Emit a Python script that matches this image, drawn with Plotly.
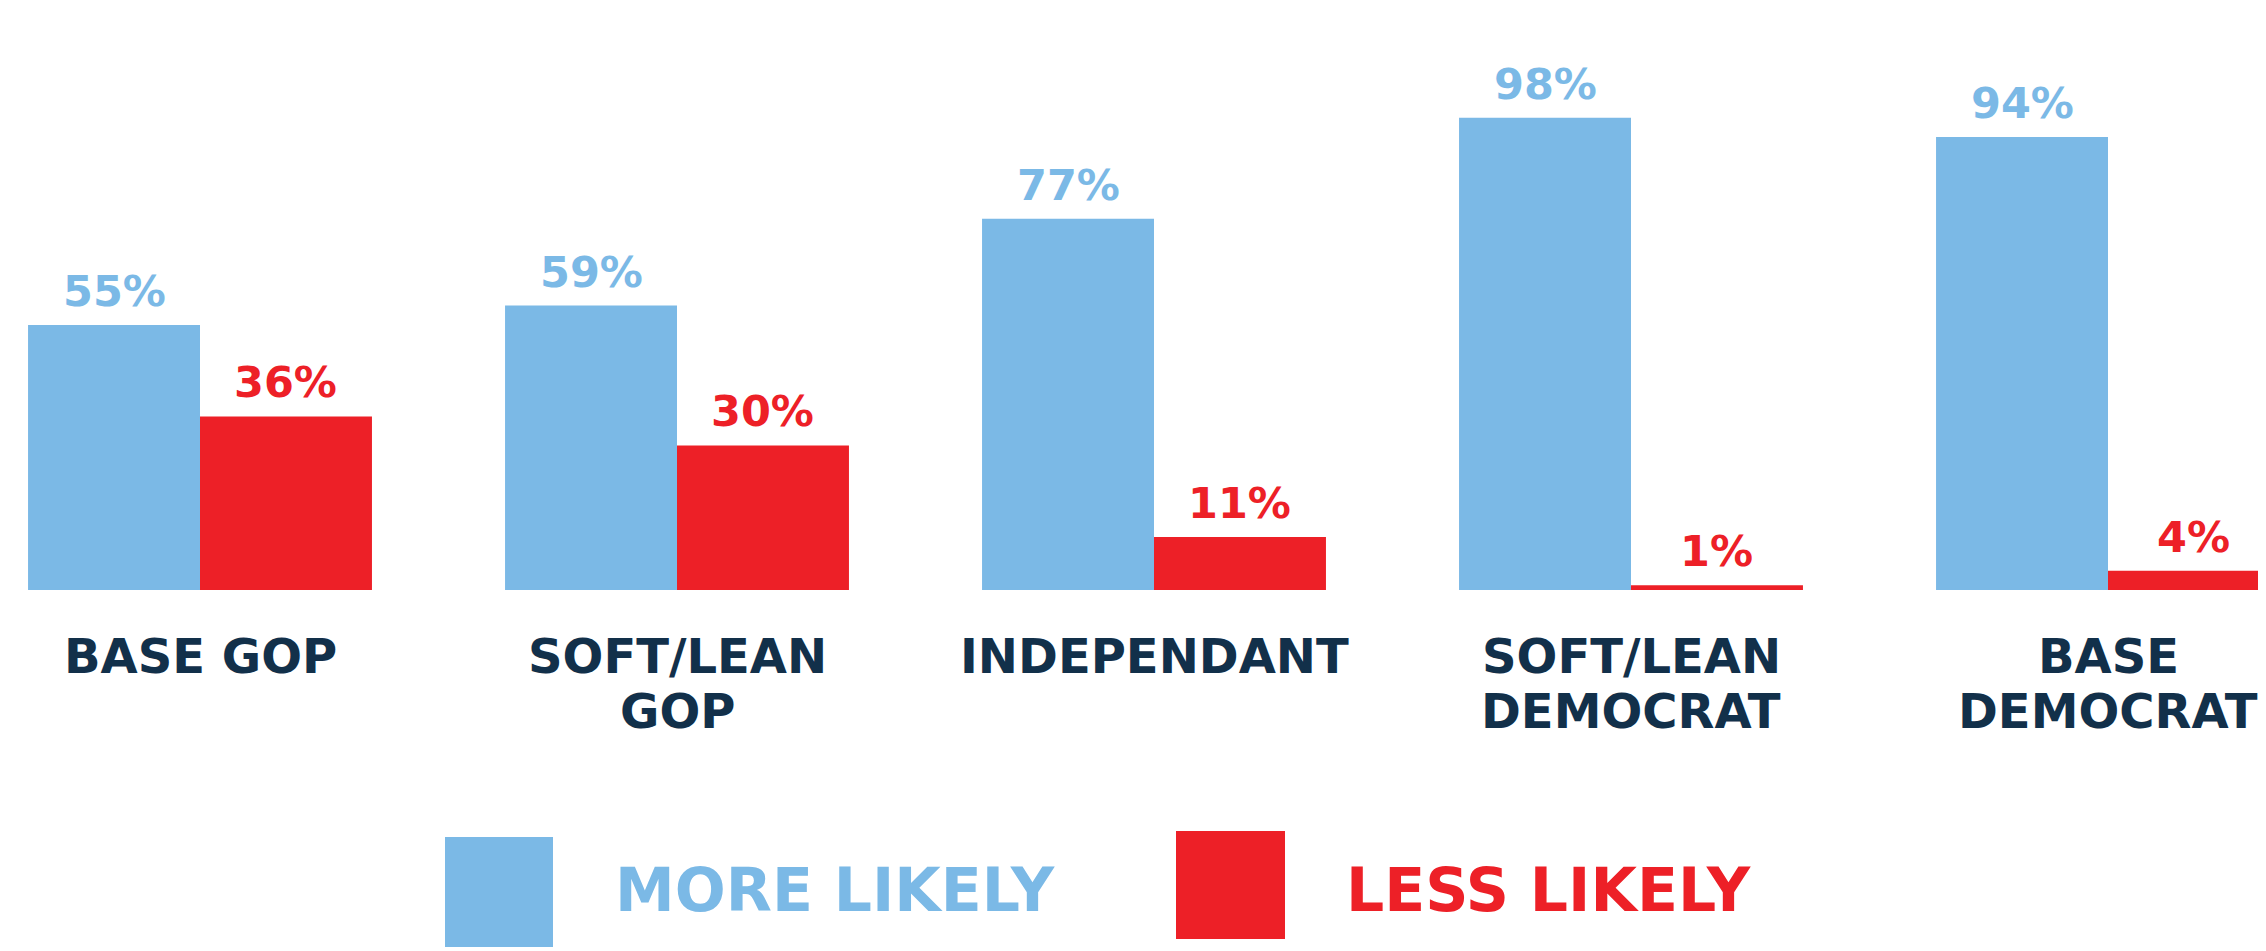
import plotly.graph_objects as go

categories = ["BASE GOP", "SOFT/LEAN<br>GOP", "INDEPENDANT", "SOFT/LEAN<br>DEMOCRAT", "BASE<br>DEMOCRAT"]
more_likely = [55, 59, 77, 98, 94]
less_likely = [36, 30, 11, 1, 4]
series_names = ["MORE LIKELY", "LESS LIKELY"]

BLUE = "#7BB9E6"
RED = "#ED2027"
NAVY = "#12304A"
FONT = "DejaVu Sans"

# page body has an 8px margin; figure fills the rest of the window
W, H = 2258, 943
BASE = 582            # pixel (in figure) of the zero line
PX_PER_PCT = 4.82
GROUP_PX = 477
FIRST_CENTER = 192
BAR_OFF = 0.18025     # half bar width in category units

fig = go.Figure()
x_idx = list(range(len(categories)))
for k, (name, vals, col) in enumerate([(series_names[0], more_likely, BLUE),
                                       (series_names[1], less_likely, RED)]):
    fig.add_trace(go.Bar(
        x=x_idx, y=vals, name=name, marker=dict(color=col, line=dict(width=0)),
        showlegend=False, hoverinfo="x+y",
    ))
    off = -BAR_OFF if k == 0 else BAR_OFF
    for i, v in zip(x_idx, vals):
        fig.add_annotation(x=i + off, y=v, xref="x", yref="y", text=f"<b>{v}%</b>",
                           showarrow=False, yanchor="bottom", yshift=7,
                           font=dict(size=43, color=col, family=FONT))

def py(yp):
    return (BASE - yp) / BASE

# category labels (one annotation per line to get tight line spacing)
line_y = [py(648), py(703)]
for i, cat in zip(x_idx, categories):
    for j, line in enumerate(cat.split("<br>")):
        fig.add_annotation(x=i, y=line_y[j], xref="x", yref="paper", text=f"<b>{line}</b>",
                           showarrow=False, yanchor="middle", xanchor="center",
                           font=dict(size=48, color=NAVY, family=FONT))

fig.update_layout(
    width=W, height=H, barmode="group", bargap=0.279, bargroupgap=0,
    paper_bgcolor="white", plot_bgcolor="white",
    margin=dict(l=0, r=0, t=0, b=H - BASE),
    xaxis=dict(range=[-FIRST_CENTER / GROUP_PX, (W - FIRST_CENTER) / GROUP_PX],
               showticklabels=False, showgrid=False, zeroline=False, showline=False, ticks=""),
    yaxis=dict(range=[0, BASE / PX_PER_PCT], visible=False, showgrid=False, zeroline=False),
    font=dict(family=FONT),
)

# custom legend (large swatches)
legend_items = [
    (series_names[0], BLUE, 437, 545, 829, 939, 605),
    (series_names[1], RED, 1168, 1277, 823, 931, 1336),
]
for name, col, x0, x1, y0, y1, tx in legend_items:
    fig.add_shape(type="rect", xref="paper", yref="paper", x0=x0 / W, x1=x1 / W,
                  y0=py(y0), y1=py(y1), fillcolor=col, line=dict(width=0))
    fig.add_annotation(xref="paper", yref="paper", x=tx / W, y=py(882), xanchor="left",
                       yanchor="middle", text=f"<b>{name}</b>", showarrow=False,
                       font=dict(size=60, color=col, family=FONT))

fig.write_html("out.html")
